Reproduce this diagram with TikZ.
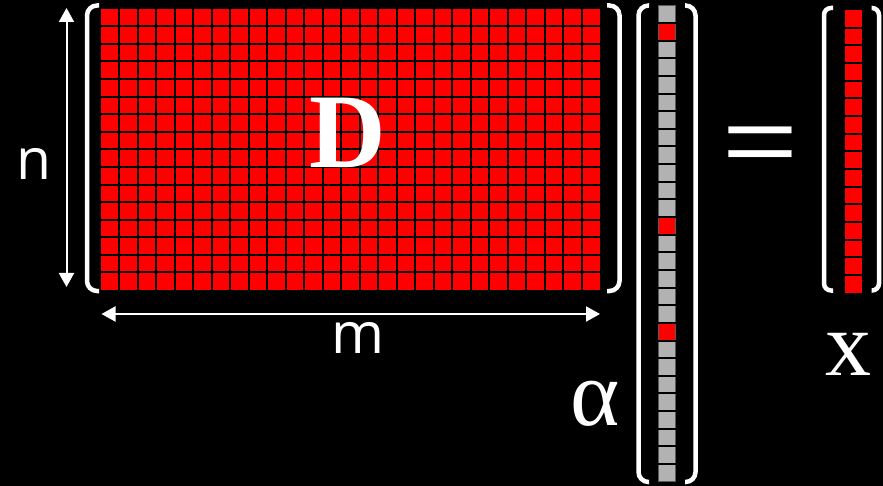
\documentclass[tikz,border=0pt]{standalone}
\usepackage{fontspec}
\setmainfont{Liberation Serif}
\newfontfamily\sansf{Open Sans}
\newfontfamily\arialf{Liberation Sans}
\usetikzlibrary{arrows.meta}
\definecolor{cellred}{RGB}{255,0,0}
\definecolor{cellgray}{RGB}{178,178,178}
\definecolor{celledge}{RGB}{90,90,90}
\begin{document}
\begin{tikzpicture}[x=1pt,y=-1pt,
  brk/.style={white,line width=4.5pt,rounded corners=10pt},
  brks/.style={white,line width=4.5pt,rounded corners=7pt},
  dimarrow/.style={white,line width=2pt,{Triangle[length=14pt,width=15pt]}-{Triangle[length=14pt,width=15pt]}},
  gridline/.style={black,line width=2pt},
  lbl/.style={white,inner sep=0pt}]
\fill[black] (0,0) rectangle (883,486);
\useasboundingbox (0,0) rectangle (883,486);

% matrix D
\fill[cellred] (100.7,8.7) rectangle (600,290);
\foreach \i in {1,...,26} \draw[gridline] ({100.7+\i*499.3/27},8.7) -- ({100.7+\i*499.3/27},290);
\foreach \j in {1,...,15} \draw[gridline] (100.7,{8.7+\j*281.3/16}) -- (600,{8.7+\j*281.3/16});

% vector alpha
\fill[cellgray] (658.3,5.3) rectangle (675.7,481.7);
\foreach \k in {1,12,18} \fill[cellred] (658.3,{5.3+\k*476.4/27}) rectangle (675.7,{5.3+(\k+1)*476.4/27});
\draw[celledge,line width=0.6pt] (658.3,5.3) rectangle (675.7,481.7);
\foreach \k in {1,...,26} \draw[gridline] (658.3,{5.3+\k*476.4/27}) -- (675.7,{5.3+\k*476.4/27});

% vector x
\fill[cellred] (845,10) rectangle (861.7,292.7);
\foreach \k in {1,...,15} \draw[gridline] (845,{10+\k*282.7/16}) -- (861.7,{10+\k*282.7/16});

% brackets
\draw[brk] (99,5.5) -- (87,5.5) -- (87,291) -- (99,291);
\draw[brk] (607,5.5) -- (619.5,5.5) -- (619.5,291) -- (607,291);
\draw[brk] (649,5.5) -- (638.5,5.5) -- (638.5,482) -- (649,482);
\draw[brk] (685,5.5) -- (695.5,5.5) -- (695.5,482) -- (685,482);
\draw[brks] (833,8) -- (824,8) -- (824,290.5) -- (833,290.5);
\draw[brks] (871.5,8) -- (879,8) -- (879,290.5) -- (871.5,290.5);

% dimension arrows
\coordinate (ntop) at (66.5,8);
\coordinate (nbot) at (66.5,287);
\coordinate (mleft) at (101.5,314);
\coordinate (mright) at (600,314);
\draw[dimarrow] (ntop) -- (nbot);
\draw[dimarrow] (mleft) -- (mright);

% labels
\node[lbl,anchor=base] (Dlbl) at (347.5,168) {\bfseries\fontsize{106}{106}\selectfont D};
\node[lbl,anchor=base] (alphalbl) at (595.5,425) {\fontsize{94}{94}\selectfont α};
\node[lbl,anchor=base] (xlbl) at (848,375) {\fontsize{92}{92}\selectfont x};
\node[lbl,anchor=base] (nlbl) at (33.5,180) {\sansf\fontsize{57}{57}\selectfont n};
\node[lbl,anchor=base] (mlbl) at (358,353.5) {\sansf\fontsize{57}{57}\selectfont m};
\node[lbl,anchor=base] (eqlbl) at (760.3,174) {\arialf\fontsize{100}{100}\selectfont\scalebox{1.3}[0.95]{=}};
\end{tikzpicture}
\end{document}
